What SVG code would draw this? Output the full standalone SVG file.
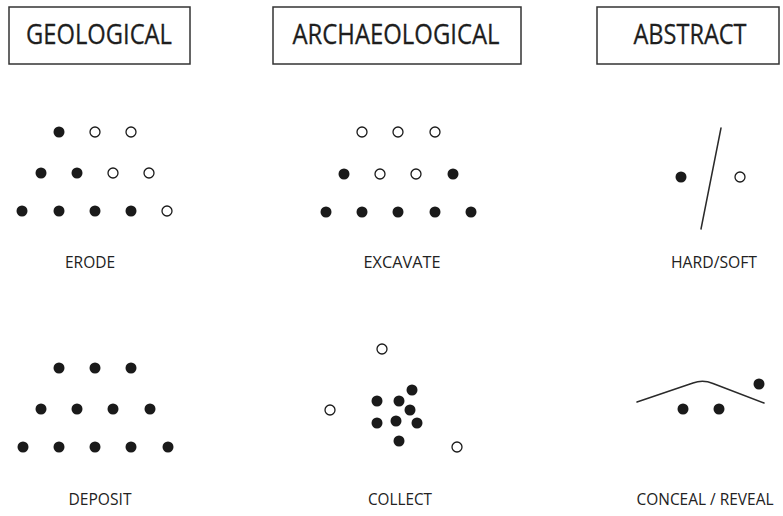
<svg xmlns="http://www.w3.org/2000/svg" width="783" height="516" viewBox="0 0 783 516">
  <style>
    .box { fill: #fff; stroke: #333; stroke-width: 1.5; }
    .head { font-family: "Open Sans", "Noto Sans", sans-serif; font-size: 28px; fill: #1e1e1e; text-anchor: middle; stroke: #1e1e1e; stroke-width: 0.3; }
    .lbl { font-family: "Open Sans", "Noto Sans", sans-serif; font-size: 17px; fill: #222; text-anchor: middle; }
    .f { fill: #1a1a1a; }
    .o { fill: #fff; stroke: #1a1a1a; stroke-width: 1.3; }
    .ln { fill: none; stroke: #2a2a2a; stroke-width: 1.5; stroke-linecap: round; }
  </style>
  <defs>
    <circle id="fd" class="f" r="5.5"/>
    <circle id="od" class="o" r="5"/>
  </defs>
  <rect width="783" height="516" fill="#fff"/>

  <!-- column headings -->
  <g id="geological">
    <rect class="box" x="9" y="7" width="181" height="57"/>
    <text class="head" x="99" y="43.5" textLength="146" lengthAdjust="spacingAndGlyphs">GEOLOGICAL</text>
  </g>
  <g id="archaeological">
    <rect class="box" x="273" y="7" width="248" height="57"/>
    <text class="head" x="396" y="43.5" textLength="207" lengthAdjust="spacingAndGlyphs">ARCHAEOLOGICAL</text>
  </g>
  <g id="abstract">
    <rect class="box" x="597" y="7" width="182" height="57"/>
    <text class="head" x="690" y="43.5" textLength="113" lengthAdjust="spacingAndGlyphs">ABSTRACT</text>
  </g>

  <!-- erode -->
  <g id="erode">
    <use href="#fd" x="59" y="132"/><use href="#od" x="95" y="132"/><use href="#od" x="131" y="132"/>
    <use href="#fd" x="41" y="173"/><use href="#fd" x="77" y="173"/><use href="#od" x="113" y="173"/><use href="#od" x="149" y="173"/>
    <use href="#fd" x="22" y="211"/><use href="#fd" x="59" y="211"/><use href="#fd" x="95" y="211"/><use href="#fd" x="131" y="211"/><use href="#od" x="167" y="211"/>
    <text class="lbl" x="90" y="268" textLength="50" lengthAdjust="spacingAndGlyphs">ERODE</text>
  </g>

  <!-- excavate -->
  <g id="excavate">
    <use href="#od" x="362" y="132"/><use href="#od" x="398" y="132"/><use href="#od" x="435" y="132"/>
    <use href="#fd" x="344" y="174"/><use href="#od" x="380" y="174"/><use href="#od" x="416" y="174"/><use href="#fd" x="453" y="174"/>
    <use href="#fd" x="326" y="212"/><use href="#fd" x="362" y="212"/><use href="#fd" x="398" y="212"/><use href="#fd" x="435" y="212"/><use href="#fd" x="471" y="212"/>
    <text class="lbl" x="402" y="268" textLength="77" lengthAdjust="spacingAndGlyphs">EXCAVATE</text>
  </g>

  <!-- hard / soft -->
  <g id="hard-soft">
    <line class="ln" x1="721" y1="128" x2="701" y2="229"/>
    <use href="#fd" x="681" y="177"/><use href="#od" x="740" y="177"/>
    <text class="lbl" x="714" y="268" textLength="86" lengthAdjust="spacingAndGlyphs">HARD/SOFT</text>
  </g>

  <!-- deposit -->
  <g id="deposit">
    <use href="#fd" x="59" y="368"/><use href="#fd" x="95" y="368"/><use href="#fd" x="131" y="368"/>
    <use href="#fd" x="41" y="409"/><use href="#fd" x="77" y="409"/><use href="#fd" x="113" y="409"/><use href="#fd" x="150" y="409"/>
    <use href="#fd" x="23" y="447"/><use href="#fd" x="59" y="447"/><use href="#fd" x="95" y="447"/><use href="#fd" x="131" y="447"/><use href="#fd" x="168" y="447"/>
    <text class="lbl" x="100" y="505" textLength="63" lengthAdjust="spacingAndGlyphs">DEPOSIT</text>
  </g>

  <!-- collect -->
  <g id="collect">
    <use href="#od" x="382" y="349"/><use href="#od" x="330" y="410"/><use href="#od" x="457" y="447"/>
    <use href="#fd" x="412" y="390"/>
    <use href="#fd" x="377" y="401"/><use href="#fd" x="399" y="401"/>
    <use href="#fd" x="410" y="410"/>
    <use href="#fd" x="377" y="423"/><use href="#fd" x="396" y="421"/><use href="#fd" x="417" y="423"/>
    <use href="#fd" x="399" y="441"/>
    <text class="lbl" x="400" y="505" textLength="64" lengthAdjust="spacingAndGlyphs">COLLECT</text>
  </g>

  <!-- conceal / reveal -->
  <g id="conceal-reveal">
    <path class="ln" d="M637,402 L693,383 Q703,379.5 713,383.5 L764,403"/>
    <use href="#fd" x="683" y="409"/><use href="#fd" x="719" y="409"/><use href="#fd" x="759" y="384"/>
    <text class="lbl" x="705" y="505" textLength="137" lengthAdjust="spacingAndGlyphs">CONCEAL / REVEAL</text>
  </g>
</svg>
